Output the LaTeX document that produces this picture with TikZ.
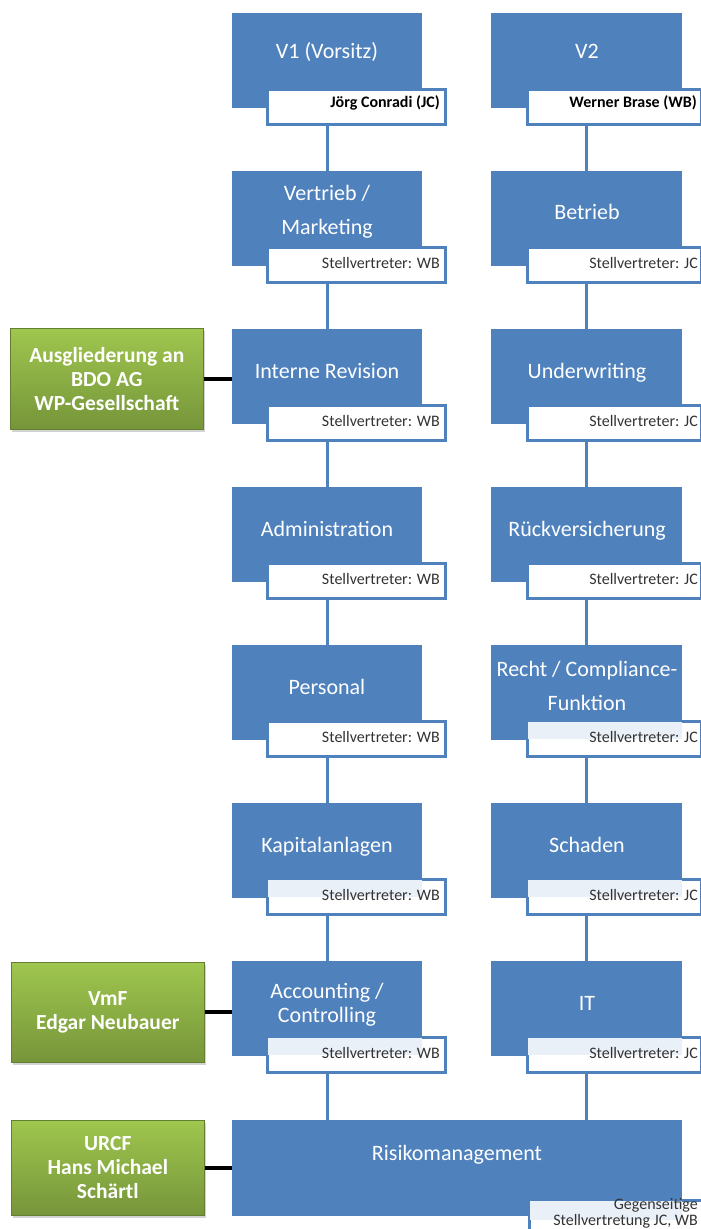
\documentclass[tikz,border=0pt]{standalone}
\usepackage{fontspec}
\setmainfont{Carlito}
\usetikzlibrary{shadows}
\definecolor{obl}{HTML}{4F81BD}
\definecolor{gtop}{HTML}{9FC64E}
\definecolor{gbot}{HTML}{76953A}
\definecolor{tintc}{HTML}{EAF0F8}
\definecolor{subtxt}{HTML}{333333}
\tikzset{
  bluebox/.style={fill=obl, draw=none, minimum height=95pt, anchor=north west, inner sep=0pt},
  lbox/.style={bluebox, minimum width=190pt},
  rbox/.style={bluebox, minimum width=191pt},
  ttlm/.style={text=white, font=\fontsize{22}{34}\selectfont, align=center, inner sep=0pt},
  ttl/.style={ttlm, text height=15pt, text depth=5pt},
  ttlb/.style={ttlm, font=\fontsize{22}{24}\selectfont},
  subbox/.style={draw=obl, line width=2.5pt, fill=white, minimum height=35pt, anchor=north west, inner sep=0pt},
  lsub/.style={subbox, minimum width=178pt},
  rsub/.style={subbox, minimum width=174pt},
  subt/.style={text=subtxt, font=\fontsize{16}{16}\selectfont, anchor=east, inner sep=0pt},
  subtb/.style={text=black, font=\bfseries\fontsize{16}{16}\selectfont, anchor=east, inner sep=0pt},
  conn/.style={draw=obl, line width=3pt},
  gconn/.style={draw=black, line width=4pt},
  gbox/.style={top color=gtop, bottom color=gbot, draw=gbot!85!black, line width=0.6pt,
    drop shadow={shadow xshift=1.5pt, shadow yshift=-3pt, opacity=0.35},
    minimum width=193pt, anchor=north west, inner sep=0pt, text=white,
    font=\bfseries\fontsize{21.5}{24}\selectfont, align=center},
  tint/.style={fill=tintc, draw=none}
}
\begin{document}
\begin{tikzpicture}[x=1pt,y=-1pt]
\useasboundingbox (0,0) rectangle (701,1229);
% ---------- rows (top = 13 + 158*(i-1))
\foreach \i/\t in {1/13,2/171,3/329,4/487,5/645,6/803,7/961}{
  \node[lbox] (L\i) at (232,\t) {};
  \node[rbox] (R\i) at (491,\t) {};
}
\foreach \i/\t in {1/13,2/171,3/329,4/487,5/645,6/803,7/961}{
  \node[lsub] (LS\i) at (266,\t+75) {};
  \node[rsub] (RS\i) at (526,\t+75) {};
}
% tints
\fill[tint] ([shift={(1.5pt,-1.5pt)}]RS5.north west) rectangle (R5.east |- RS5.center);
\fill[tint] ([shift={(1.5pt,-1.5pt)}]LS6.north west) rectangle (L6.east |- LS6.center);
\fill[tint] ([shift={(1.5pt,-1.5pt)}]RS6.north west) rectangle (R6.east |- RS6.center);
\fill[tint] ([shift={(1.5pt,-1.5pt)}]LS7.north west) rectangle (L7.east |- LS7.center);
\fill[tint] ([shift={(1.5pt,-1.5pt)}]RS7.north west) rectangle (R7.east |- RS7.center);

% titles
\node[ttl] (tL1) at (327,53) {V1 (Vorsitz)};
\node[ttl] (tR1) at (587,53) {V2};
\node[ttlm] (tL2) at (327,212) {Vertrieb /\\Marketing};
\node[ttl] (tR2) at (587,214) {Betrieb};
\node[ttl] (tL3) at (327,373) {Interne Revision};
\node[ttl] (tR3) at (587,373) {Underwriting};
\node[ttl] (tL4) at (327,531) {Administration};
\node[ttl] (tR4) at (587,531) {Rückversicherung};
\node[ttl] (tL5) at (327,689) {Personal};
\node[ttlm] (tR5) at (587,686) {Recht / Compliance-\\Funktion};
\node[ttl] (tL6) at (327,847) {Kapitalanlagen};
\node[ttl] (tR6) at (587,847) {Schaden};
\node[ttlb] (tL7) at (327,1005) {Accounting /\\Controlling};
\node[ttl] (tR7) at (587,1005) {IT};

% sub texts
\node[subtb] (sL1) at (440,103) {Jörg Conradi (JC)};
\node[subtb] (sR1) at (697,103) {Werner Brase (WB)};
\foreach \i/\t in {2/171,3/329,4/487,5/645,6/803,7/961}{
  \node[subt] (sL\i) at (440,\t+92) {Stellvertreter: WB};
  \node[subt] (sR\i) at (698,\t+92) {Stellvertreter: JC};
}

% vertical connectors
\foreach \i [evaluate=\i as \j using int(\i+1)] in {1,...,6}{
  \draw[conn] (L\i |- LS\i.south) -- (L\j.north);
  \draw[conn] (R\i |- RS\i.south) -- (R\j.north);
}

% bottom box
\node[bluebox, minimum width=450pt, minimum height=96pt] (RM) at (232,1120) {};
\node[ttl] (tRM) at (457,1155) {Risikomanagement};
\node[subbox, minimum width=173pt, minimum height=40pt] (RMS) at (528,1199) {};
\fill[tint] ([shift={(1.5pt,-1.5pt)}]RMS.north west) rectangle (RM.east |- RMS.center);
\node[subt, align=right, anchor=north east] (sRM) at (698,1198) {Gegenseitige\\Stellvertretung JC, WB};
\draw[conn] (L7 |- LS7.south) -- (L7 |- RM.north);
\draw[conn] (R7 |- RS7.south) -- (R7 |- RM.north);

% green boxes
\node[gbox, minimum height=101pt] (G1) at (10,328) {Ausgliederung an\\BDO AG\\WP-Gesellschaft};
\node[gbox, minimum height=100pt] (G2) at (11,962) {VmF\\Edgar Neubauer};
\node[gbox, minimum height=95pt] (G3) at (11,1120) {URCF\\Hans Michael\\Schärtl};
\draw[gconn] (G1.east) -- (G1.east -| L3.west);
\draw[gconn] (G2.east) -- (G2.east -| L7.west);
\draw[gconn] (G3.east) -- (G3.east -| RM.west);
\end{tikzpicture}
\end{document}
